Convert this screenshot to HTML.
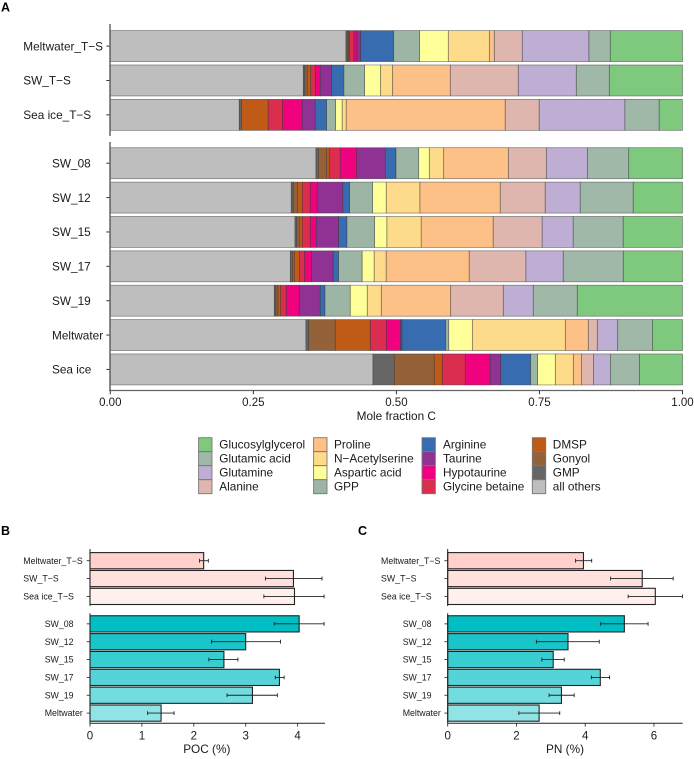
<!DOCTYPE html>
<html lang="en">
<head>
<meta charset="utf-8">
<title>Mole fraction C, POC and PN by sample</title>
<style>
html,body{margin:0;padding:0;background:#fff;}
svg{display:block;font-family:"Liberation Sans",Arial,sans-serif;fill:#1a1a1a;}
</style>
</head>
<body>
<svg id="chart" xmlns="http://www.w3.org/2000/svg" width="694" height="759" viewBox="0 0 694 759"></svg>
<script>
// Panel A data: one array per metabolite, one value per sample
const samplesA = ['Meltwater_T−S','SW_T−S','Sea ice_T−S','SW_08','SW_12','SW_15','SW_17','SW_19','Meltwater','Sea ice'];
const allOthers       = [.4119,.3373,.2254,.3595,.3163,.3228,.3146,.2866,.3420,.4591];
const gmp             = [.0023,.0030,.0038,.0040,.0035,.0030,.0035,.0030,.0047,.0372];
const gonyol          = [.0021,.0040,0,.0147,.0077,.0045,.0035,.0035,.0465,.0699];
const dmsp            = [.0021,.0059,.0468,.0045,.0080,.0052,.0094,.0047,.0612,.0140];
const glycineBetaine  = [.0075,.0080,.0252,.0192,.0140,.0140,.0087,.0098,.0280,.0402];
const hypotaurine     = [.0052,.0087,.0343,.0287,.0122,.0105,.0122,.0227,.0245,.0437];
const taurine         = [.0065,.0199,.0227,.0500,.0449,.0391,.0377,.0367,.0030,.0182];
const arginine        = [.0577,.0215,.0199,.0187,.0117,.0145,.0094,.0082,.0764,.0524];
const gpp             = [.0454,.0362,.0157,.0397,.0402,.0484,.0412,.0442,.0052,.0122];
const asparticAcid    = [.0500,.0280,.0115,.0185,.0238,.0215,.0210,.0297,.0412,.0308];
const nAcetylserine   = [.0717,.0210,.0070,.0252,.0589,.0599,.0210,.0245,.1625,.0315];
const proline         = [.0087,.1007,.2779,.1129,.1403,.1258,.1451,.1213,.0402,.0140];
const alanine         = [.0489,.1188,.0594,.0664,.0786,.0856,.0991,.0919,.0157,.0210];
const glutamine       = [.1166,.1014,.1498,.0717,.0612,.0542,.0652,.0524,.0357,.0297];
const glutamicAcid    = [.0372,.0577,.0599,.0724,.0926,.0874,.1049,.0769,.0605,.0507];
const glucosylglycerol= [.1262,.1279,.0405,.0940,.0860,.1035,.1035,.1838,.0528,.0755];
const seriesNames = ['all others','GMP','Gonyol','DMSP','Glycine betaine','Hypotaurine','Taurine','Arginine','GPP','Aspartic acid','N−Acetylserine','Proline','Alanine','Glutamine','Glutamic acid','Glucosylglycerol'];
const seriesValues = [allOthers,gmp,gonyol,dmsp,glycineBetaine,hypotaurine,taurine,arginine,gpp,asparticAcid,nAcetylserine,proline,alanine,glutamine,glutamicAcid,glucosylglycerol];
const ticksA = [0,0.25,0.5,0.75,1];
const tickLabelsA = ['0.00','0.25','0.50','0.75','1.00'];

// Panels B and C data
const samplesBC = ['Meltwater_T−S','SW_T−S','Sea ice_T−S','SW_08','SW_12','SW_15','SW_17','SW_19','Meltwater'];
const pocValues = [2.19,3.92,3.94,4.03,3.00,2.58,3.65,3.13,1.37];
const pocLow    = [2.11,3.38,3.35,3.55,2.34,2.29,3.57,2.64,1.11];
const pocHigh   = [2.28,4.47,4.51,4.51,3.67,2.85,3.74,3.61,1.62];
const pocTicks  = [0,1,2,3,4];
const pnValues  = [3.95,5.66,6.04,5.14,3.50,3.07,4.44,3.31,2.66];
const pnLow     = [3.72,4.74,5.25,4.45,2.58,2.74,4.18,2.95,2.07];
const pnHigh    = [4.19,6.56,6.83,5.83,4.41,3.39,4.71,3.68,3.26];
const pnTicks   = [0,2,4,6];

// Style palettes
const seriesColors = ['#BEBEBE','#666666','#946139','#BF5B17','#DB2E4E','#F0027F','#8F3294','#386CB0','#9DB5A4','#FFFF99','#FEDA8B','#FDC086','#DEB6AD','#BEAED4','#A0B8A8','#7FC97F'];
const barColors = ['#FFD0CC','#FFE0DC','#FFF0EE','#00BFC4','#1AC5CA','#38CDD1','#55D4D8','#72DCDF','#90E4E6'];

const svg = document.getElementById('chart');
const NS = 'http://www.w3.org/2000/svg';
function make(tag, attrs, parent, text) {
  const el = document.createElementNS(NS, tag);
  for (const k in attrs) el.setAttribute(k, attrs[k]);
  if (text !== undefined) el.textContent = text;
  (parent || svg).appendChild(el);
  return el;
}
function slug(s) {
  return s.toLowerCase().replace(/[^a-z0-9]+/g, '-');
}

// ---------- Panel letters ----------
[['A',1,11.5],['B',1,535],['C',358,535]].forEach(function (p) {
  const t = make('text', {x:p[1], y:p[2], 'font-size':12.5, 'font-weight':'bold', fill:'#000'}, svg, p[0]);
  
  
});

// ---------- Panel A ----------
const xA = function (v) { return 110.3 + v * 572.2; };
const yA = function (i) { return 46.1 + 34.37 * i + (i >= 3 ? 14 : 0); };
const axisGrey = '#666666';
const panelA = make('g', {});



samplesA.forEach(function (sample, i) {
  let cum = 0;
  const row = make('g', {}, panelA);
  
  
  seriesValues.forEach(function (vals, s) {
    const v = vals[i];
    if (v > 0) {
      const r = make('rect', {x:xA(cum), y:yA(i) - 15.5, width:xA(cum + v) - xA(cum), height:31,
        fill:seriesColors[s], stroke:'#333', 'stroke-opacity':0.6, 'stroke-width':0.7}, row);
      
      
    }
    cum += v;
  });
  const tick = make('line', {x1:106.3, x2:110, y1:yA(i), y2:yA(i), stroke:'#333', 'stroke-width':1}, panelA);
  
  
  const lab = make('text', {x:i < 3 ? 23.3 : 52, y:yA(i) + 4.2, 'font-size':11.8}, panelA, sample);
  
  
});

const axA1 = make('line', {x1:110, x2:110, y1:24, y2:136, stroke:axisGrey, 'stroke-width':1.5}, panelA);


const axA2 = make('line', {x1:110, x2:110, y1:142, y2:391, stroke:axisGrey, 'stroke-width':1.5}, panelA);


const axA3 = make('line', {x1:109.3, x2:xA(1) + .5, y1:390.5, y2:390.5, stroke:axisGrey, 'stroke-width':1.3}, panelA);



ticksA.forEach(function (v, i) {
  const t = make('line', {x1:xA(v), x2:xA(v), y1:390.5, y2:394.3, stroke:'#333', 'stroke-width':1}, panelA);
  
  
  const lab = make('text', {x:xA(v), y:406.2, 'font-size':11.5, 'text-anchor':'middle'}, panelA, tickLabelsA[i]);
  
  
});
const titleA = make('text', {x:396.3, y:420, 'font-size':11.8, 'text-anchor':'middle'}, panelA, 'Mole fraction C');



// ---------- Legend ----------
const legendColumnsX = [198.6, 313.6, 422, 532.3];
const legendTextX = [219.3, 334, 443, 552.8];
const legend = make('g', {});


seriesNames.slice().reverse().forEach(function (name, k) {
  const c = Math.floor(k / 4), r = k % 4;
  const colorIdx = seriesNames.length - 1 - k;
  const entry = make('g', {}, legend);
  
  
  const sw = make('rect', {x:legendColumnsX[c], y:437.7 + r * 14, width:13.4, height:14,
    fill:seriesColors[colorIdx], stroke:'#777', 'stroke-width':0.9}, entry);
  
  
  const tx = make('text', {x:legendTextX[c], y:448.7 + r * 14, 'font-size':11.8}, entry, name);
  
  
});

// ---------- Panels B and C ----------
const yBC = function (i) { return 560.7 + 17.85 * i + (i >= 3 ? 9.6 : 0); };
function drawPanel(cfg) {
  const g = make('g', {});
  
  
  const x = function (v) { return cfg.x0 + v * cfg.scale; };

  samplesBC.forEach(function (sample, i) {
    const b = make('rect', {x:x(0), y:yBC(i) - 8.1, width:x(cfg.values[i]) - x(0), height:16.2,
      fill:barColors[i], stroke:'#222', 'stroke-width':1.1}, g);
    
    
  });
  samplesBC.forEach(function (sample, i) {
    const y = yBC(i);
    const e = make('path', {d:'M' + x(cfg.low[i]) + ' ' + y + 'H' + x(cfg.high[i]) +
      'M' + x(cfg.low[i]) + ' ' + (y - 1.9) + 'V' + (y + 1.9) +
      'M' + x(cfg.high[i]) + ' ' + (y - 1.9) + 'V' + (y + 1.9),
      fill:'none', stroke:'#222', 'stroke-width':0.9}, g);
    
    
    const t = make('line', {x1:x(0) - 3.3, x2:x(0), y1:y, y2:y, stroke:'#333', 'stroke-width':0.9}, g);
    
    
    const lab = make('text', {x:i < 3 ? cfg.labelX1 : cfg.labelX2, y:y + 3.1, 'font-size':8.8}, g, sample);
    
    
  });

  const a1 = make('line', {x1:x(0), x2:x(0), y1:549, y2:606, stroke:'#222', 'stroke-width':1}, g);
  
  
  const a2 = make('line', {x1:x(0), x2:x(0), y1:613.3, y2:723.5, stroke:'#222', 'stroke-width':1}, g);
  
  
  const a3 = make('line', {x1:x(0) - .5, x2:cfg.xEnd, y1:723.2, y2:723.2, stroke:'#222', 'stroke-width':1}, g);
  
  

  cfg.ticks.forEach(function (v) {
    const t = make('line', {x1:x(v), x2:x(v), y1:723.2, y2:726.6, stroke:'#333', 'stroke-width':0.9}, g);
    
    
    const lab = make('text', {x:x(v), y:739.3, 'font-size':11.5, 'text-anchor':'middle'}, g, String(v));
    
    
  });
  const title = make('text', {x:cfg.titleX, y:753, 'font-size':11.8, 'text-anchor':'middle'}, g, cfg.title);
  
  
}

drawPanel({name:'panel-b-poc', x0:90, scale:51.9, xEnd:325, values:pocValues, low:pocLow, high:pocHigh,
  ticks:pocTicks, title:'POC (%)', titleX:206.8, labelX1:23.3, labelX2:44.7});
drawPanel({name:'panel-c-pn', x0:447.7, scale:34.37, xEnd:682.7, values:pnValues, low:pnLow, high:pnHigh,
  ticks:pnTicks, title:'PN (%)', titleX:565, labelX1:381, labelX2:402.7});
</script>
</body>
</html>
